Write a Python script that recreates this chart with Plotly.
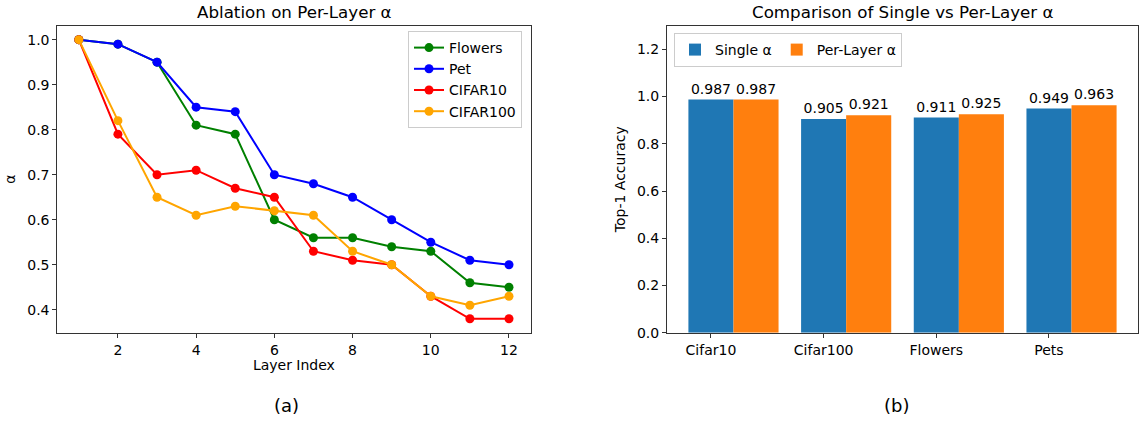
import plotly.graph_objects as go

# ---------------- data ----------------
layers = [1, 2, 3, 4, 5, 6, 7, 8, 9, 10, 11, 12]
flowers = [1.0, 0.99, 0.95, 0.81, 0.79, 0.60, 0.56, 0.56, 0.54, 0.53, 0.46, 0.45]
pet = [1.0, 0.99, 0.95, 0.85, 0.84, 0.70, 0.68, 0.65, 0.60, 0.55, 0.51, 0.50]
cifar10 = [1.0, 0.79, 0.70, 0.71, 0.67, 0.65, 0.53, 0.51, 0.50, 0.43, 0.38, 0.38]
cifar100 = [1.0, 0.82, 0.65, 0.61, 0.63, 0.62, 0.61, 0.53, 0.50, 0.43, 0.41, 0.43]

datasets = ["Cifar10", "Cifar100", "Flowers", "Pets"]
single_alpha = [0.987, 0.905, 0.911, 0.949]
per_layer_alpha = [0.987, 0.921, 0.925, 0.963]

left_ticks = [2, 4, 6, 8, 10, 12]
alpha_ticks = [0.4, 0.5, 0.6, 0.7, 0.8, 0.9, 1.0]
acc_ticks = [0.0, 0.2, 0.4, 0.6, 0.8, 1.0, 1.2]

# ---------------- layout helpers ----------------
W, H = 1140, 421
FONT = "DejaVu Sans"


def px_x(p):
    return p / W


def px_y(p):
    return 1 - p / H


fig = go.Figure()

line_series = [
    ("Flowers", flowers, "green"),
    ("Pet", pet, "blue"),
    ("CIFAR10", cifar10, "red"),
    ("CIFAR100", cifar100, "orange"),
]
for name, vals, col in line_series:
    fig.add_trace(go.Scatter(
        x=layers, y=vals, name=name, mode="lines+markers",
        line=dict(color=col, width=2), marker=dict(color=col, size=9),
        xaxis="x", yaxis="y", legend="legend", cliponaxis=False,
    ))

bar_w = 0.4
xpos = list(range(len(datasets)))
bar_text_font = dict(size=14, color="black", family=FONT)
fig.add_trace(go.Bar(
    x=xpos, y=single_alpha, width=bar_w, name="Single α",
    marker=dict(color="#1f77b4", line=dict(width=0)),
    text=[f"{v:.3f}" for v in single_alpha], textposition="outside",
    textfont=bar_text_font, constraintext="none",
    xaxis="x2", yaxis="y2", legend="legend2", cliponaxis=False,
))
fig.add_trace(go.Bar(
    x=[p + bar_w for p in xpos], y=per_layer_alpha, width=bar_w, name="Per-Layer α",
    marker=dict(color="#ff7f0e", line=dict(width=0)),
    text=[f"{v:.3f}" for v in per_layer_alpha], textposition="outside",
    textfont=bar_text_font, constraintext="none",
    xaxis="x2", yaxis="y2", legend="legend2", cliponaxis=False,
))

axis_common = dict(
    showgrid=False, zeroline=False, showline=True, linecolor="#333333",
    linewidth=1, mirror=True, ticks="outside", ticklen=4, tickwidth=1,
    tickcolor="#333333", tickfont=dict(size=14, color="black", family=FONT),
    automargin=False,
)

ydom = [px_y(332.7), px_y(25.7)]

fig.update_layout(
    width=W, height=H,
    margin=dict(l=0, r=0, t=0, b=0, autoexpand=False),
    paper_bgcolor="white", plot_bgcolor="white",
    font=dict(family=FONT, color="black"),
    barmode="overlay",
    xaxis=dict(domain=[px_x(57.3), px_x(530.5)], range=[0.45, 12.55],
               tickvals=left_ticks, title=dict(text="Layer Index", font=dict(size=14), standoff=2),
               anchor="y", **axis_common),
    yaxis=dict(domain=ydom, range=[0.349, 1.031], tickvals=alpha_ticks,
               tickformat=".1f", title=dict(text="α", font=dict(size=14), standoff=8),
               anchor="x", **axis_common),
    xaxis2=dict(domain=[px_x(667), px_x(1138)], range=[-0.39, 3.79],
                tickvals=xpos, ticktext=datasets, anchor="y2", **axis_common),
    yaxis2=dict(domain=ydom, range=[0, 1.3], tickvals=acc_ticks, tickformat=".1f",
                title=dict(text="Top-1 Accuracy", font=dict(size=14), standoff=8),
                anchor="x2", **axis_common),
    legend=dict(x=px_x(522), y=px_y(31), xanchor="right", yanchor="top",
                bgcolor="rgba(255,255,255,0.8)", bordercolor="#cccccc", borderwidth=1,
                font=dict(size=14, family=FONT), tracegroupgap=0, itemwidth=30),
    legend2=dict(x=px_x(674), y=px_y(33), xanchor="left", yanchor="top",
                 orientation="h", bgcolor="rgba(255,255,255,0.8)", bordercolor="#cccccc",
                 borderwidth=1, font=dict(size=14, family=FONT), itemwidth=30),
    annotations=[
        dict(text="Ablation on Per-Layer α", x=px_x(294), y=px_y(12.5), xref="paper", yref="paper",
             showarrow=False, font=dict(size=16.7, family=FONT), xanchor="center", yanchor="middle"),
        dict(text="Comparison of Single vs Per-Layer α", x=px_x(902), y=px_y(12.5), xref="paper",
             yref="paper", showarrow=False, font=dict(size=16.7, family=FONT),
             xanchor="center", yanchor="middle"),
        dict(text="(a)", x=px_x(286), y=px_y(405), xref="paper", yref="paper", showarrow=False,
             font=dict(size=18, family=FONT), xanchor="center", yanchor="middle"),
        dict(text="(b)", x=px_x(896), y=px_y(405), xref="paper", yref="paper", showarrow=False,
             font=dict(size=18, family=FONT), xanchor="center", yanchor="middle"),
    ],
)

# remove the page's default 8px body margin so the figure fills the window exactly
fig.write_html(
    "out.html",
    config={"displayModeBar": False},
    post_script="document.body.style.margin='0';document.body.style.padding='0';"
                "document.documentElement.style.overflow='hidden';",
)
